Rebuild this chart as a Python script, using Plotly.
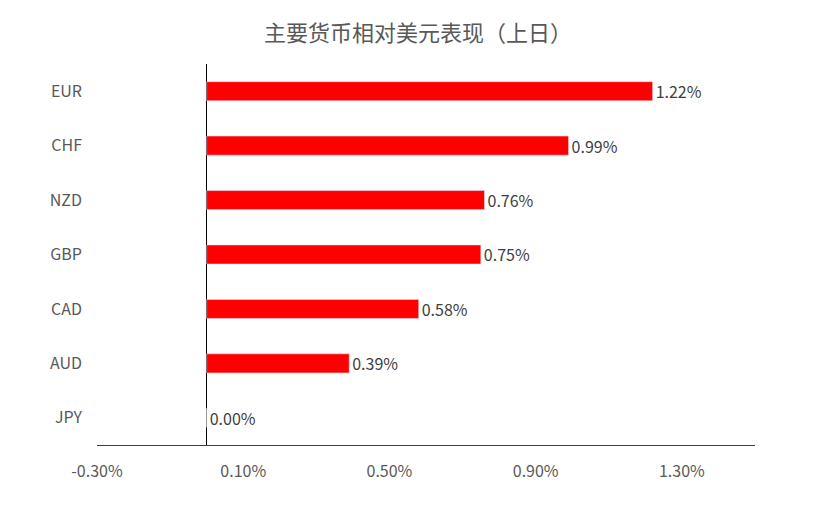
import plotly.graph_objects as go

currencies = ["EUR", "CHF", "NZD", "GBP", "CAD", "AUD", "JPY"]
changes = [1.22, 0.99, 0.76, 0.75, 0.58, 0.39, 0.00]
tick_vals = [-0.30, 0.10, 0.50, 0.90, 1.30]
tick_text = ["-0.30%", "0.10%", "0.50%", "0.90%", "1.30%"]

fig = go.Figure()
fig.add_trace(go.Bar(
    y=currencies, x=changes, orientation="h",
    marker_color="#ff0000",
    text=[f"{v:.2f}%" for v in changes], textposition="outside",
    textfont=dict(size=16, color="#404040"), cliponaxis=False,
    constraintext="none",
))
fig.update_layout(
    width=820, height=514, plot_bgcolor="white", paper_bgcolor="white",
    margin=dict(l=89, r=73, t=56, b=77),
    font=dict(family="Noto Sans CJK SC", color="#595959", size=16),
    title=dict(text="主要货币相对美元表现（上日）", x=0.5, xanchor="center", y=0.965,
               font=dict(size=22, color="#595959")),
    bargap=0.65, showlegend=False,
)
fig.update_xaxes(range=[-0.30, 1.50], tickvals=tick_vals, ticktext=tick_text,
                 showgrid=False, zeroline=True, zerolinecolor="black", zerolinewidth=1,
                 showline=True, linecolor="#404040", ticks="", ticklabelstandoff=12,
                 automargin=False)
fig.update_yaxes(categoryorder="array", categoryarray=currencies[::-1],
                 showgrid=False, ticks="", ticklabelstandoff=14, automargin=False)
fig.write_html("out.html")
